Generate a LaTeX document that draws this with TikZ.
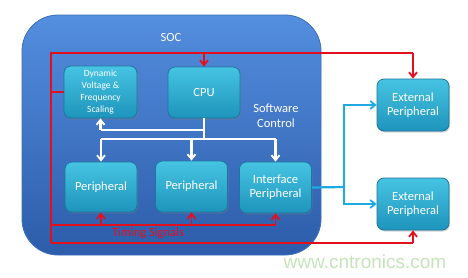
\documentclass[tikz,border=0pt]{standalone}
\usepackage{fontspec}
\setmainfont{Carlito}
\newfontfamily\wmfont{Liberation Sans}
\usetikzlibrary{arrows.meta,shadows}
\definecolor{socTop}{RGB}{84,142,222}
\definecolor{socBot}{RGB}{44,92,170}
\definecolor{socEdge}{RGB}{60,110,190}
\definecolor{boxTop}{RGB}{70,196,226}
\definecolor{boxBot}{RGB}{30,148,188}
\definecolor{boxEdge}{RGB}{28,118,158}
\definecolor{sigRed}{RGB}{226,16,28}
\definecolor{linkCyan}{RGB}{30,170,226}
\definecolor{wmGreen}{RGB}{196,228,186}
\tikzset{
  blk/.style={draw=boxEdge, line width=0.8pt, rounded corners=7pt,
    top color=boxTop, bottom color=boxBot, text=white,
    minimum width=72pt, minimum height=51pt, inner sep=1pt, align=center,
    font=\fontsize{12.5}{14}\selectfont,
    drop shadow={opacity=0.35, shadow xshift=1pt, shadow yshift=-1.5pt}},
  redline/.style={draw=sigRed, line width=1.8pt},
  whiteline/.style={draw=white, line width=2.2pt},
  cyanline/.style={draw=linkCyan, line width=2.2pt},
  tip/.style={-{Straight Barb[length=5pt,width=8pt,line width=1.8pt]}},
  lbl/.style={text=white, font=\fontsize{12.5}{15}\selectfont, align=center}
}
\begin{document}
\begin{tikzpicture}[x=1pt,y=-1pt]
\useasboundingbox[fill=white] (0,0) rectangle (468,277);
% SOC container
\draw[socEdge, line width=0.8pt, rounded corners=36pt, top color=socTop, bottom color=socBot]
  (22,15) rectangle (321,255);
\node[lbl] (soc) at (171,37) {SOC};
\node[lbl] (sw) at (276,116) {Software\\Control};
% blocks
\node[blk, font=\fontsize{9.5}{12}\selectfont, minimum width=73pt, minimum height=52pt] (dvfs) at (100.5,92) {Dynamic\\Voltage \&\\Frequency\\Scaling};
\node[blk] (cpu) at (204,92.5) {CPU};
\node[blk, minimum height=50pt] (p1) at (101,187) {Peripheral};
\node[blk] (p2) at (191.5,186.5) {Peripheral};
\node[blk] (ifp) at (275.5,187.5) {Interface\\Peripheral};
\node[blk, minimum height=52pt] (e1) at (413,105) {External\\Peripheral};
\node[blk, minimum height=52pt] (e2) at (413,204) {External\\Peripheral};
% helper coordinates
\coordinate (rtl) at (51,53);
\coordinate (rbl) at (51,243);
\coordinate (rb1) at (51,225);
\coordinate (wbus) at (204,139);
\coordinate (wdv) at (204,130);
\coordinate (cj) at (344,187);
% red timing signals
\draw[redline] (rbl) -- (rtl) -- (rtl -| e1.north);
\draw[redline, tip] (rtl -| e1.north) -- (e1.north);
\draw[redline, tip] (rtl -| cpu.north) -- (cpu.north);
\draw[redline] (rtl |- dvfs.west) -- (dvfs.west);
\draw[redline] (rb1) -- (rb1 -| ifp.south);
\draw[redline, tip] (rb1 -| ifp.south) -- (ifp.south);
\draw[redline, tip] (rb1 -| p1.south) -- (p1.south);
\draw[redline, tip] (rb1 -| p2.south) -- (p2.south);
\draw[redline] (rbl) -- (rbl -| e2.south);
\draw[redline, tip] (rbl -| e2.south) -- (e2.south);
\node[text=sigRed, font=\fontsize{12.5}{14}\selectfont] (ts) at (148,233.5) {Timing Signals};
% white software control
\draw[whiteline] (cpu.south) -- (wbus);
\draw[whiteline] (wdv) -- (wdv -| dvfs.south);
\draw[whiteline, tip] (wdv -| dvfs.south) -- (dvfs.south);
\draw[whiteline] (wbus -| p1.north) -- (wbus -| ifp.north);
\draw[whiteline, tip] (wbus -| p1.north) -- (p1.north);
\draw[whiteline, tip] (wbus -| p2.north) -- (p2.north);
\draw[whiteline, tip] (wbus -| ifp.north) -- (ifp.north);
% cyan links
\draw[cyanline] (ifp.east) -- (cj);
\draw[cyanline, tip] (cj) |- (e1.west);
\draw[cyanline, tip] (cj) |- (e2.west);
% watermark
\node[text=wmGreen, font=\wmfont\fontsize{19}{22}\selectfont] (wm) at (365,262) {www.cntronics.com};
\end{tikzpicture}
\end{document}
